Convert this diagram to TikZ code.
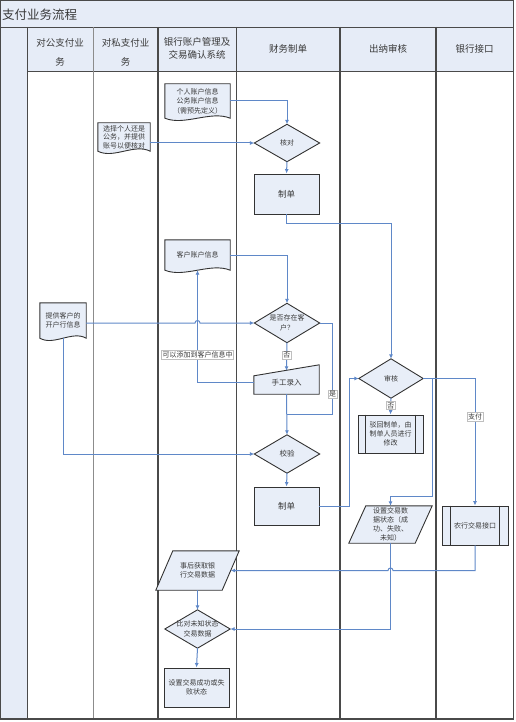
\documentclass[tikz,border=0pt]{standalone}
\usepackage{fontspec}
\newfontfamily\cjk{Noto Sans CJK SC}
\usetikzlibrary{calc,arrows.meta}
\pgfdeclarelayer{bg}
\pgfdeclarelayer{shp}
\pgfsetlayers{bg,shp,main}
\definecolor{hdr}{HTML}{E6ECF7}
\definecolor{nfill}{HTML}{E8EEF8}
\definecolor{lnk}{HTML}{5F88C8}
\definecolor{txt}{HTML}{3A3A3A}
\definecolor{lanec}{HTML}{4A4A4A}
\tikzset{
  base/.style={inner sep=0pt, align=center, text=txt, font=\cjk\fontsize{7}{9.5}\selectfont},
  ghost/.style={base, minimum width=65pt, minimum height=38pt},
  boxnode/.style={base, draw=black!80, fill=nfill, line width=0.9pt, minimum width=65pt, minimum height=39pt},
  shp/.style={draw=black!80, fill=nfill, line width=0.9pt, line join=miter},
  arr/.style={draw=lnk, line width=1pt, -{Latex[length=4.5pt,width=4pt]}},
  lnkline/.style={draw=lnk, line width=1pt},
  lbl/.style={base, fill=white, draw=black!25, line width=0.3pt, inner sep=1pt},
  hd/.style={inner sep=0pt, align=center, text=txt, font=\cjk\fontsize{9.5}{13}\selectfont},
  laneline/.style={draw=lanec, line width=#1},
}
\newcommand\drawdiam[1]{\begin{pgfonlayer}{shp}\path[shp] (#1.north) -- (#1.east) -- (#1.south) -- (#1.west) -- cycle;\end{pgfonlayer}}
\newcommand\drawdoc[1]{\begin{pgfonlayer}{shp}\path[shp] (#1.north west) -- (#1.north east) -- (#1.south east) .. controls ($(#1.south east)!0.3!(#1.south west)+(0,-8)$) and ($(#1.south west)!0.3!(#1.south east)+(0,8)$) .. (#1.south west) -- cycle;\end{pgfonlayer}}
\newcommand\drawmanual[1]{\begin{pgfonlayer}{shp}\path[shp] (#1.south west) -- ($(#1.north west)+(0,5)$) -- ($(#1.north east)+(0,-6)$) -- (#1.south east) -- cycle;\end{pgfonlayer}}
\newcommand\drawpara[1]{\begin{pgfonlayer}{shp}\path[shp] ($(#1.north west)+(17,0)$) -- (#1.north east) -- ($(#1.south east)+(-17,0)$) -- (#1.south west) -- cycle;\end{pgfonlayer}}
\newcommand\drawpred[2]{\draw[black!80, line width=0.9pt] ($(#1.north west)+(#2,0)$) -- ($(#1.south west)+(#2,0)$) ($(#1.north east)+(-#2,0)$) -- ($(#1.south east)+(-#2,0)$);}
\begin{document}
\begin{tikzpicture}[x=1pt,y=-1pt]
\useasboundingbox (0,0) rectangle (516,722);
% ---------- lanes ----------
\begin{pgfonlayer}{bg}
  \fill[hdr] (0,0) rectangle (513,71);
  \fill[hdr] (0,71) rectangle (27,719);
  \draw[laneline=0.8pt] (0.5,27) -- (513,27);
  \draw[laneline=0.8pt] (27,71) -- (513,71);
  \draw[laneline=0.8pt] (27,27) -- (27,719);
  \draw[draw=black!45, line width=0.8pt] (93,27) -- (93,719);
  \draw[laneline=1.6pt] (158,27) -- (158,719);
  \draw[laneline=0.8pt] (236,27) -- (236,719);
  \draw[laneline=1.6pt] (340,27) -- (340,719);
  \draw[laneline=1.6pt] (436,27) -- (436,719);
  \draw[laneline=0.9pt] (0.5,0.5) rectangle (513,719);
  \draw[laneline=1.6pt] (0,719) -- (513,719);
\end{pgfonlayer}
\node[hd, anchor=west, font=\cjk\fontsize{12.5}{14}\selectfont] (title) at (2,15) {支付业务流程};
\node[hd, font=\cjk\fontsize{9.5}{19}\selectfont] (h1) at (60,52.5) {对公支付业\\务};
\node[hd, font=\cjk\fontsize{9.5}{19}\selectfont] (h2) at (125.5,52.5) {对私支付业\\务};
\node[hd, font=\cjk\fontsize{9.5}{13}\selectfont] (h3) at (197,48.5) {银行账户管理及\\交易确认系统};
\node[hd] (h4) at (288,49) {财务制单};
\node[hd] (h5) at (388,49) {出纳审核};
\node[hd] (h6) at (474.5,49) {银行接口};
% ---------- nodes ----------
\node[base, minimum width=65pt, minimum height=34pt] (d1) at (197.5,101) {个人账户信息\\公务账户信息\\（需预先定义）};
\drawdoc{d1}
\node[base, minimum width=52pt, minimum height=28pt, font=\cjk\fontsize{7}{8.5}\selectfont] (d2) at (124,137) {选择个人还是\\公务，并提供\\账号以便核对};
\drawdoc{d2}
\node[ghost, minimum height=37pt] (k1) at (287,143) {核对};
\drawdiam{k1}
\node[boxnode, minimum height=40pt, font=\cjk\fontsize{8.5}{10}\selectfont] (z1) at (286.5,194) {制单};
\node[base, minimum width=65pt, minimum height=30pt] (d3) at (197.5,255) {客户账户信息};
\drawdoc{d3}
\node[ghost, minimum height=39pt] (k2) at (287,323) {是否存在客\\户？};
\drawdiam{k2}
\node[base, minimum width=46pt, minimum height=35pt] (d4) at (63,320.5) {提供客户的\\开户行信息};
\drawdoc{d4}
\node[base, minimum width=65pt, minimum height=23pt, font=\cjk\fontsize{7.5}{9}\selectfont] (m1) at (286.5,382.5) {手工录入};
\drawmanual{m1}
\node[ghost, minimum height=38pt, font=\cjk\fontsize{7.5}{9}\selectfont] (k3) at (287,454) {校验};
\drawdiam{k3}
\node[boxnode, minimum height=38pt, font=\cjk\fontsize{8.5}{10}\selectfont] (z2) at (286.5,506) {制单};
\node[ghost, minimum width=64pt, minimum height=39pt] (s1) at (391,378.5) {审核};
\drawdiam{s1}
\node[boxnode, minimum height=38pt, font=\cjk\fontsize{7}{9}\selectfont] (b1) at (390.5,434) {驳回制单，由\\制单人员进行\\修改};
\drawpred{b1}{8}
\node[base, minimum width=83pt, minimum height=37pt, font=\cjk\fontsize{7}{9.2}\selectfont] (p1) at (390.5,524.5) {设置交易数\\据状态（成\\功、失败、\\未知）};
\drawpara{p1}
\node[boxnode, minimum width=66pt, minimum height=39pt] (n1) at (475,525.5) {农行交易接口};
\drawpred{n1}{9}
\node[base, minimum width=83pt, minimum height=39pt] (q1) at (197.5,570.5) {事后获取银\\行交易数据};
\drawpara{q1}
\node[ghost, minimum height=38pt] (k4) at (197.5,629) {比对未知状态\\交易数据};
\drawdiam{k4}
\node[boxnode] (r1) at (196.5,687.5) {设置交易成功或失\\败状态};
% ---------- connectors ----------
\draw[arr] (d1.east) -| (k1.north);
\draw[arr] (d2.east |- k1.west) -- (k1.west);
\draw[arr] (k1.south) -- (z1.north);
\draw[arr] (z1.south) -- ++(0,9) -| (s1.north);
\draw[arr] (d3.east) -| (k2.north);
\draw[arr] (d4.east |- k2.west) -- ($(d3.south |- k2.west)+(-2.5,0)$) arc[start angle=180, end angle=360, radius=2.5] -- (k2.west);
\draw[arr] (k2.south) -- (m1.north) node[lbl, pos=0.45] {否};
\draw[arr] (m1.west) -| (d3.south) node[lbl, pos=0.625] {可以添加到客户信息中};
\coordinate (j1) at ($(m1.south)!0.5!(k3.north)$);
\draw[lnkline] (k2.east) -- ++(13,0) |- (j1) node[lbl, pos=0.39] {是};
\draw[arr] (m1.south) -- (k3.north);
\draw[arr] (d4.south) |- (k3.west);
\draw[arr] (k3.south) -- (z2.north);
\draw[arr] (z2.east) -- ++(30,0) |- (s1.west);
\draw[arr] (s1.south) -- (b1.north) node[lbl, pos=0.45] {否};
\draw[arr] (s1.east) -| (n1.north) node[lbl, pos=0.65] {支付};
\draw[arr] (s1.east) -- ++(9,0) -- ++(0,118) -| (p1.north);
\draw[arr] (n1.south) |- ($(p1.south |- q1.east)+(2.5,0)$) arc[start angle=360, end angle=180, radius=2.5] -- ($(q1.east)+(-8.5,0)$);
\draw[arr] (p1.south) |- (k4.east);
\draw[arr] (q1.south) -- (k4.north);
\draw[arr] (k4.south) -- (r1.north);
\end{tikzpicture}
\end{document}
